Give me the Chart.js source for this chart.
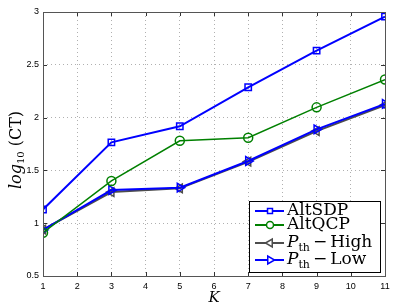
<!DOCTYPE html>
<html lang="en">
<head>
    <meta charset="UTF-8">
    <title>CT vs K</title>
    <script src="https://cdn.jsdelivr.net/npm/chart.js"></script>
    <style>
        html, body { margin: 0; padding: 0; background: #fff; }
        #wrap { width: 399px; height: 307px; }
    </style>
</head>
<body>
    <div id="wrap"><canvas id="ctChart" width="399" height="307"></canvas></div>

    <script>
    // values
    const kValues = [1, 3, 5, 7, 9, 11];
    const altSDP = [1.13, 1.766, 1.918, 2.287, 2.634, 2.956];
    const altQCP = [0.91, 1.40, 1.78, 1.81, 2.097, 2.36];
    const pthHigh = [0.94, 1.295, 1.33, 1.582, 1.872, 2.118];
    const pthLow = [0.936, 1.314, 1.336, 1.589, 1.889, 2.129];
    const xTicks = [1, 2, 3, 4, 5, 6, 7, 8, 9, 10, 11];
    const yTicks = [0.5, 1, 1.5, 2, 2.5, 3];

    const legendItems = [
        { text: 'AltSDP', color: '#0000ff', style: 'rect', rot: 0 },
        { text: 'AltQCP', color: '#008000', style: 'circle', rot: 0 },
        { text: 'High', color: '#4d4d4d', style: 'triangle', rot: -90, sub: true },
        { text: 'Low', color: '#0000ff', style: 'triangle', rot: 90, sub: true }
    ];
    const legendRows = [211, 225, 243, 260];

    function toPts(arr) {
        return kValues.map((k, i) => ({ x: k, y: arr[i] }));
    }

    // frame, inward ticks, y title and legend
    const decor = {
        id: 'decor',
        afterDraw(chart) {
            const ctx = chart.ctx;
            const a = chart.chartArea;
            const xs = chart.scales.x, ys = chart.scales.y;
            ctx.save();
            ctx.strokeStyle = '#333';
            ctx.lineWidth = 1;
            ctx.beginPath();
            xTicks.forEach(t => {
                const px = Math.round(xs.getPixelForValue(t)) + 0.5;
                ctx.moveTo(px, a.bottom); ctx.lineTo(px, a.bottom - 4);
                ctx.moveTo(px, a.top); ctx.lineTo(px, a.top + 4);
            });
            yTicks.forEach(t => {
                const py = Math.round(ys.getPixelForValue(t)) + 0.5;
                ctx.moveTo(a.left, py); ctx.lineTo(a.left + 4, py);
                ctx.moveTo(a.right, py); ctx.lineTo(a.right - 4, py);
            });
            ctx.stroke();
            ctx.strokeStyle = '#555';
            ctx.strokeRect(a.left + 0.5, a.top + 0.5, a.right - a.left, a.bottom - a.top);

            // y axis title: log10(CT)
            ctx.translate(16, 150);
            ctx.rotate(-Math.PI / 2);
            ctx.fillStyle = '#000';
            ctx.textBaseline = 'alphabetic';
            const parts = [
                { t: 'log', f: 'italic 16px "DejaVu Serif"', dy: 0 },
                { t: '10', f: '10px "DejaVu Serif"', dy: 3 },
                { t: ' (CT)', f: '16px "DejaVu Serif"', dy: 0 }
            ];
            let w = 0;
            parts.forEach(p => { ctx.font = p.f; w += ctx.measureText(p.t).width; });
            let x0 = -w / 2;
            parts.forEach(p => {
                ctx.font = p.f;
                ctx.fillText(p.t, x0, 5 + p.dy);
                x0 += ctx.measureText(p.t).width;
            });
            ctx.restore();

            // legend box
            ctx.save();
            const lx = 249, ly = 201, lw = 131, lh = 71;
            ctx.fillStyle = '#fff';
            ctx.fillRect(lx, ly, lw, lh);
            ctx.strokeStyle = '#000';
            ctx.lineWidth = 1;
            ctx.strokeRect(lx + 0.5, ly + 0.5, lw, lh);
            legendItems.forEach((it, i) => {
                const cy = legendRows[i];
                ctx.strokeStyle = it.color;
                ctx.lineWidth = 2;
                ctx.beginPath();
                ctx.moveTo(lx + 6, cy); ctx.lineTo(lx + 35, cy);
                ctx.stroke();
                ctx.fillStyle = '#fff';
                ctx.lineWidth = 1.5;
                Chart.helpers.drawPoint(ctx, {
                    pointStyle: it.style, radius: it.style === 'triangle' ? 4.5 : 3.5,
                    rotation: it.rot, borderWidth: 1.5
                }, lx + 21, cy);
                ctx.fillStyle = '#000';
                ctx.textBaseline = 'middle';
                let tx = lx + 38;
                if (it.sub) {
                    ctx.font = 'italic 17px "DejaVu Serif"';
                    ctx.fillText('P', tx, cy);
                    tx += ctx.measureText('P').width;
                    ctx.font = '11px "DejaVu Serif"';
                    ctx.fillText('th', tx, cy + 5);
                    tx += ctx.measureText('th').width + 3;
                    ctx.font = '17px "DejaVu Serif"';
                    ctx.fillText('\u2212', tx, cy);
                    tx += ctx.measureText('\u2212').width + 3;
                    ctx.fillText(it.text, tx, cy);
                } else {
                    ctx.font = '17px "DejaVu Serif"';
                    ctx.fillText(it.text, tx, cy);
                }
            });
            ctx.restore();
        }
    };

    const ctx = document.getElementById('ctChart').getContext('2d');
    new Chart(ctx, {
        type: 'line',
        data: {
            datasets: [
                {
                    label: 'AltSDP', data: toPts(altSDP), borderColor: '#0000ff',
                    borderWidth: 2, pointStyle: 'rect', pointRadius: 4.5,
                    pointBorderWidth: 1.5, pointBackgroundColor: 'rgba(0,0,0,0)',
                    pointBorderColor: '#0000ff', order: 0
                },
                {
                    label: 'AltQCP', data: toPts(altQCP), borderColor: '#008000',
                    borderWidth: 1.5, pointStyle: 'circle', pointRadius: 4.5,
                    pointBorderWidth: 1.5, pointBackgroundColor: 'rgba(0,0,0,0)',
                    pointBorderColor: '#008000', order: 1
                },
                {
                    label: 'Pth - High', data: toPts(pthHigh), borderColor: '#4d4d4d',
                    borderWidth: 2, pointStyle: 'triangle', pointRotation: -90,
                    pointRadius: 5, pointBorderWidth: 1.5,
                    pointBackgroundColor: 'rgba(0,0,0,0)', pointBorderColor: '#4d4d4d', order: 3
                },
                {
                    label: 'Pth - Low', data: toPts(pthLow), borderColor: '#0000ff',
                    borderWidth: 2, pointStyle: 'triangle', pointRotation: 90,
                    pointRadius: 5, pointBorderWidth: 1.5,
                    pointBackgroundColor: 'rgba(0,0,0,0)', pointBorderColor: '#0000ff', order: 2
                }
            ]
        },
        options: {
            responsive: false,
            animation: false,
            layout: { padding: { top: 12, right: 14, left: 0, bottom: 0 } },
            plugins: { legend: { display: false }, tooltip: { enabled: false } },
            scales: {
                x: {
                    type: 'linear', min: 1, max: 11,
                    afterBuildTicks: s => { s.ticks = xTicks.map(v => ({ value: v })); },
                    afterFit: s => { s.height = 31; },
                    grid: { color: '#b0b0b0', drawTicks: false, lineWidth: 1 },
                    border: { display: false, dash: [1, 3] },
                    ticks: { color: '#000', font: { family: 'Liberation Sans', size: 9 }, padding: 5,
                             maxRotation: 0, callback: v => String(v) },
                    title: { display: true, text: 'K', color: '#000', padding: { top: -4, bottom: 0 },
                             font: { family: 'DejaVu Serif', style: 'italic', size: 15 } }
                },
                y: {
                    min: 0.5, max: 3,
                    afterBuildTicks: s => { s.ticks = yTicks.map(v => ({ value: v })); },
                    afterFit: s => { s.width = 43; },
                    grid: { color: '#b0b0b0', drawTicks: false, lineWidth: 1 },
                    border: { display: false, dash: [1, 3] },
                    ticks: { color: '#000', font: { family: 'Liberation Sans', size: 9 }, padding: 4,
                             callback: v => String(v) }
                }
            }
        },
        plugins: [decor]
    });
    </script>
</body>
</html>
